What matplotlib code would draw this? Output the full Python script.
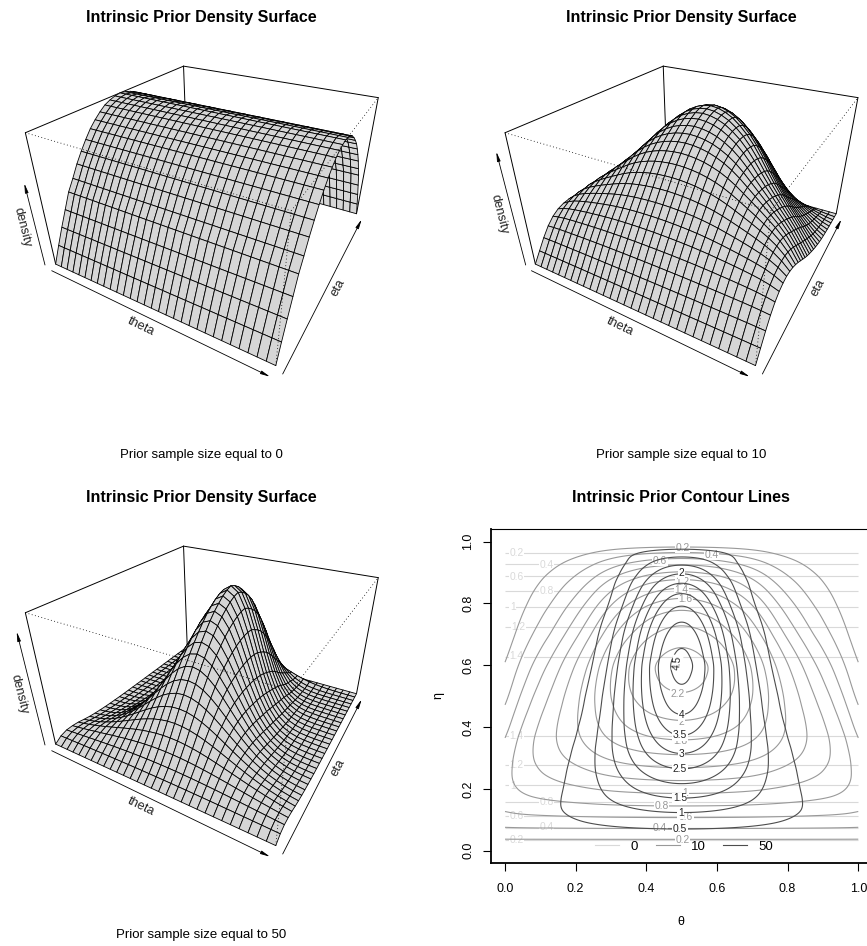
import numpy as np
import matplotlib
matplotlib.use("Agg")
import matplotlib.pyplot as plt
from matplotlib.collections import PolyCollection
from matplotlib.lines import Line2D

plt.rcParams["font.family"] = ["Liberation Sans", "DejaVu Sans"]

W, H = 867, 946

# densities, one value per mesh row (eta = 0 .. 1 in 30 steps)
crest_0 = [0, .19, .37, .54, .71, .83, .96, 1.07, 1.17, 1.26, 1.33, 1.39, 1.44, 1.47, 1.49, 1.5,
           1.49, 1.47, 1.44, 1.39, 1.33, 1.26, 1.17, 1.07, .96, .83, .71, .54, .37, .19, 0]
crest_10 = [0, .18, .37, .56, .74, .91, 1.07, 1.23, 1.39, 1.55, 1.70, 1.83, 1.94, 2.03, 2.11, 2.18,
            2.23, 2.26, 2.27, 2.24, 2.18, 2.09, 1.98, 1.85, 1.69, 1.50, 1.28, 1.02, .72, .38, 0]
crest_50 = [0, .22, .47, .77, 1.10, 1.46, 1.82, 2.17, 2.52, 2.86, 3.17, 3.45, 3.71, 3.95, 4.16, 4.33,
            4.48, 4.59, 4.65, 4.57, 4.45, 4.28, 4.05, 3.76, 3.40, 2.98, 2.48, 1.93, 1.33, .68, 0]

# log drop of the density between theta = 0.5 and the theta = 0 edge, per mesh row
drop_0 = [0] * 31
drop_10 = [0, .01, .04, .10, .18, .28, .39, .51, .65, .80, .96, 1.12, 1.29, 1.46, 1.64, 1.82,
           2.0, 2.18, 2.37, 2.56, 2.76, 2.96, 3.14, 3.31, 3.47, 3.61, 3.73, 3.83, 3.91, 3.96, 4.0]
drop_50 = [.15, .35, .75, 1.24, 1.72, 2.30, 2.87, 3.38, 3.86, 4.36, 4.84, 5.36, 5.85, 6.37, 6.84, 7.26,
           7.74, 8.22, 8.68, 9.02, 9.35, 9.68, 10.13, 10.7, 11.2, 11.44, 11.3, 11.1, 9.95, 6.5, 5.0]

# how that drop builds up from theta = 0.5 out to the edge (16 mesh columns)
shape_0 = [0] * 16
shape_10 = [0, .003, .011, .024, .044, .07, .105, .15, .205, .265, .33, .405, .49, .60, .76, 1]
shape_50 = [0, .0044, .0178, .04, .071, .111, .16, .218, .284, .36, .444, .538, .64, .751, .871, 1]

levels_0 = [.2, .4, .6, .8, 1, 1.2, 1.4]
levels_10 = [.2, .4, .6, .8, 1, 1.2, 1.4, 1.6, 1.8, 2, 2.2]
levels_50 = [.5, 1, 1.5, 2, 2.5, 3, 3.5, 4, 4.5]

# (text, theta, eta) of each contour label
labels_0 = [("0.2", .033, .962), ("0.4", .118, .926), ("0.6", .033, .885), ("0.8", .118, .839),
            ("1", .022, .787), ("1.2", .038, .723), ("1.4", .033, .629), ("1.4", .033, .371),
            ("1.2", .033, .277), ("1", .022, .211), ("0.8", .118, .159), ("0.6", .033, .113),
            ("0.4", .118, .077), ("0.2", .033, .035)]
labels_10 = [("0.2", .503, .98), ("0.4", .585, .958), ("0.6", .439, .939), ("1.2", .503, .871),
             ("1.4", .5, .842), ("1.6", .51, .813), ("2.2", .49, .506), ("2", .5, .416),
             ("1.8", .495, .355), ("1", .51, .188), ("0.8", .443, .146), ("0.6", .512, .11),
             ("0.4", .439, .073), ("0.2", .503, .035)]
labels_50 = [("2", .5, .897), ("4", .499, .439), ("3.5", .495, .374), ("3", .5, .313),
             ("2.5", .495, .264), ("1.5", .495, .17), ("1", .497, .122), ("0.5", .495, .071)]

# pixel position of the seven visible box corners of the first panel
box_unit = [(0, 0, 0), (1, 0, 0), (1, 1, 0), (0, 0, 1), (0, 1, 1), (1, 1, 1), (1, 0, 1)]
box_px = [(56, 264.3), (275, 366), (356.7, 213.3), (25.3, 132.7), (183.3, 66), (378.3, 98.3), (291.7, 210)]


def fit_camera(unit, px):
    # plain DLT, the R persp view is a projective map
    rows = []
    for (x, y, z), (u, v) in zip(unit, px):
        rows.append([x, y, z, 1, 0, 0, 0, 0, -u * x, -u * y, -u * z, -u])
        rows.append([0, 0, 0, 0, x, y, z, 1, -v * x, -v * y, -v * z, -v])
    return np.linalg.svd(np.array(rows))[2][-1].reshape(3, 4)


def project(cam, x, y, z):
    p = np.tensordot(cam, np.stack([x, y, z, np.ones_like(x)]), axes=(1, 0))
    return p[0] / p[2], p[1] / p[2]


def mesh_density(crest, drop, shape):
    crest, drop, shape = np.array(crest), np.array(drop), np.array(shape)
    side = shape[np.abs(np.arange(31) - 15)]
    return crest[:, None] * np.exp(-drop[:, None] * side[None, :])


def smooth(values, t, even_start=False):
    # Catmull-Rom through the listed values, knots evenly spaced on 0..1
    v = np.array(values, dtype=float)
    first = v[1] if even_start else 2 * v[0] - v[1]
    v = np.concatenate([[first], v, [2 * v[-1] - v[-2]]])
    pos = t * (len(values) - 1)
    i = np.minimum(pos.astype(int), len(values) - 2)
    f = pos - i
    a, b, c, d = v[i], v[i + 1], v[i + 2], v[i + 3]
    return b + .5 * f * (c - a + f * (2 * a - 5 * b + 4 * c - d + f * (3 * (b - c) + d - a)))


def fine_density(crest, drop, shape, t):
    # shape is mirrored about theta = 0.5, so it has to be flat there
    side = smooth(shape, np.abs(2 * t - 1), even_start=True)
    return smooth(crest, t)[:, None] * np.exp(-smooth(drop, t)[:, None] * side[None, :])


cam = fit_camera(box_unit, box_px)
grid = np.linspace(0, 1, 31)


def draw_persp(ax, crest, drop, shape, dx, dy):
    z = mesh_density(crest, drop, shape)
    z = z / z.max()
    T, E = np.meshgrid(grid, grid)
    u, v = project(cam, T, E, z)
    u, v = u + dx, v + dy

    def edge(a, b, **kw):
        pa = project(cam, *[np.array([c], dtype=float) for c in a])
        pb = project(cam, *[np.array([c], dtype=float) for c in b])
        ax.plot([pa[0][0] + dx, pb[0][0] + dx], [pa[1][0] + dy, pb[1][0] + dy], **kw)

    solid = dict(color="black", lw=.7, solid_capstyle="round")
    for a, b in [((0, 0, 1), (0, 1, 1)), ((0, 1, 1), (1, 1, 1)), ((0, 0, 0), (0, 0, 1)),
                 ((0, 1, 0), (0, 1, 1)), ((1, 1, 0), (1, 1, 1))]:
        edge(a, b, zorder=1, **solid)

    # back to front: far corner is theta = 0, eta = 1
    polys = []
    for i in range(30):
        for j in range(29, -1, -1):
            polys.append([(u[j, i], v[j, i]), (u[j, i + 1], v[j, i + 1]),
                          (u[j + 1, i + 1], v[j + 1, i + 1]), (u[j + 1, i], v[j + 1, i])])
    ax.add_collection(PolyCollection(polys, facecolors="#D6D6D6", edgecolors="black",
                                     linewidths=.6, zorder=2))

    dotted = dict(color="black", lw=.6, ls=(0, (1, 3)))
    for a, b in [((0, 0, 1), (1, 0, 1)), ((1, 0, 1), (1, 1, 1)), ((1, 0, 0), (1, 0, 1))]:
        edge(a, b, zorder=3, **dotted)


def arrow(ax, start, end):
    ax.annotate("", xy=end, xytext=start, zorder=4,
                arrowprops=dict(arrowstyle="-|>,head_width=.1,head_length=.55", lw=.6,
                                color="black", shrinkA=0, shrinkB=0))


fig = plt.figure(figsize=(W / 100, H / 100), dpi=100)
canvas = fig.add_axes([0, 0, 1, 1])
canvas.set_xlim(0, W)
canvas.set_ylim(H, 0)
canvas.axis("off")

panels = [
    (crest_0, drop_0, shape_0, 0, 0, (45, 265), (24.3, 183.3), (22.7, 227.7), "Prior sample size equal to 0"),
    (crest_10, drop_10, shape_10, 479.7, 0, (525.7, 265), (496.3, 151.7), (499, 214.3), "Prior sample size equal to 10"),
    (crest_50, drop_50, shape_50, 0, 480, (45, 745), (16.7, 631.7), (19.3, 694.3), "Prior sample size equal to 50"),
]
for crest, drop, shape, dx, dy, d0, d1, dl, caption in panels:
    draw_persp(canvas, crest, drop, shape, dx, dy)
    arrow(canvas, (51.7 + dx, 270.7 + dy), (270 + dx, 376.7 + dy))
    arrow(canvas, (282.7 + dx, 374 + dy), (361.7 + dx, 219.3 + dy))
    arrow(canvas, d0, d1)
    canvas.text(140.7 + dx, 326.7 + dy, "theta", rotation=-26, fontsize=9.2, color="#222222", ha="center", va="center")
    canvas.text(338.3 + dx, 287.3 + dy, "eta", rotation=62, fontsize=9.2, color="#222222", ha="center", va="center")
    canvas.text(dl[0], dl[1], "density", rotation=-76, fontsize=9.2, color="#222222", ha="center", va="center")
    canvas.text(201.5 + dx, 455 + dy, caption, fontsize=9.55, ha="center", va="center")
    canvas.text(201.5 + dx, 17.5 + dy, "Intrinsic Prior Density Surface",
                fontsize=11.55, fontweight="bold", ha="center", va="center")

canvas.text(681, 497.5, "Intrinsic Prior Contour Lines", fontsize=11.55, fontweight="bold", ha="center", va="center")
canvas.text(681, 922, "\u03b8", fontsize=9, ha="center", va="center")
canvas.text(438, 695, "\u03b7", fontsize=9, ha="center", va="center", rotation=90)

# contour panel, its right side runs past the figure edge like the reference
left, right, top, bottom = 490.9, 872.4, 529.3, 863.1
ax = fig.add_axes([left / W, 1 - bottom / H, (right - left) / W, (bottom - top) / H])
ax.set_xlim(-.04, 1.04)
ax.set_ylim(-.04, 1.04)
ax.set_xticks([0, .2, .4, .6, .8, 1], ["0.0", "0.2", "0.4", "0.6", "0.8", "1.0"])
ax.set_yticks([0, .2, .4, .6, .8, 1], ["0.0", "0.2", "0.4", "0.6", "0.8", "1.0"])
ax.tick_params(length=6, width=.8, labelsize=9, pad=6)
ax.tick_params(axis="x", pad=8)
plt.setp(ax.get_yticklabels(), rotation=90, va="center")
for s in ax.spines.values():
    s.set_linewidth(.8)
ax.spines["left"].set_linewidth(1.3)
ax.spines["bottom"].set_linewidth(1.3)

t = np.linspace(0, 1, 401)
series = [
    (crest_0, drop_0, shape_0, levels_0, labels_0, "#D9D9D9", 2),
    (crest_10, drop_10, shape_10, levels_10, labels_10, "#999999", 4),
    (crest_50, drop_50, shape_50, levels_50, labels_50, "#4D4D4D", 6),
]
for crest, drop, shape, levels, labels, colour, z in series:
    ax.contour(t, t, fine_density(crest, drop, shape, t), levels=levels, colors=colour,
               linewidths=.8, linestyles="solid", zorder=z)
    for text, x, y in labels:
        ax.text(x, y, text, color=colour if z < 6 else "#222222", fontsize=7.4, ha="center", va="center", zorder=z + 1,
                bbox=dict(facecolor="white", edgecolor="none", pad=.4))
ax.text(.488, .609, "4.5", color="#222222", fontsize=7.4, rotation=85, ha="center", va="center", zorder=7,
        bbox=dict(facecolor="white", edgecolor="none", pad=.4))

handles = [Line2D([], [], color=c, lw=.8) for c in ("#D9D9D9", "#999999", "#4D4D4D")]
ax.legend(handles, ["0", "10", "50"], ncol=3, frameon=False, fontsize=9.5, loc="center",
          bbox_to_anchor=(.507, .049), handlelength=1.82, columnspacing=1.33, handletextpad=.85,
          borderpad=0).set_zorder(9)

fig.savefig("out.png", dpi=100)
